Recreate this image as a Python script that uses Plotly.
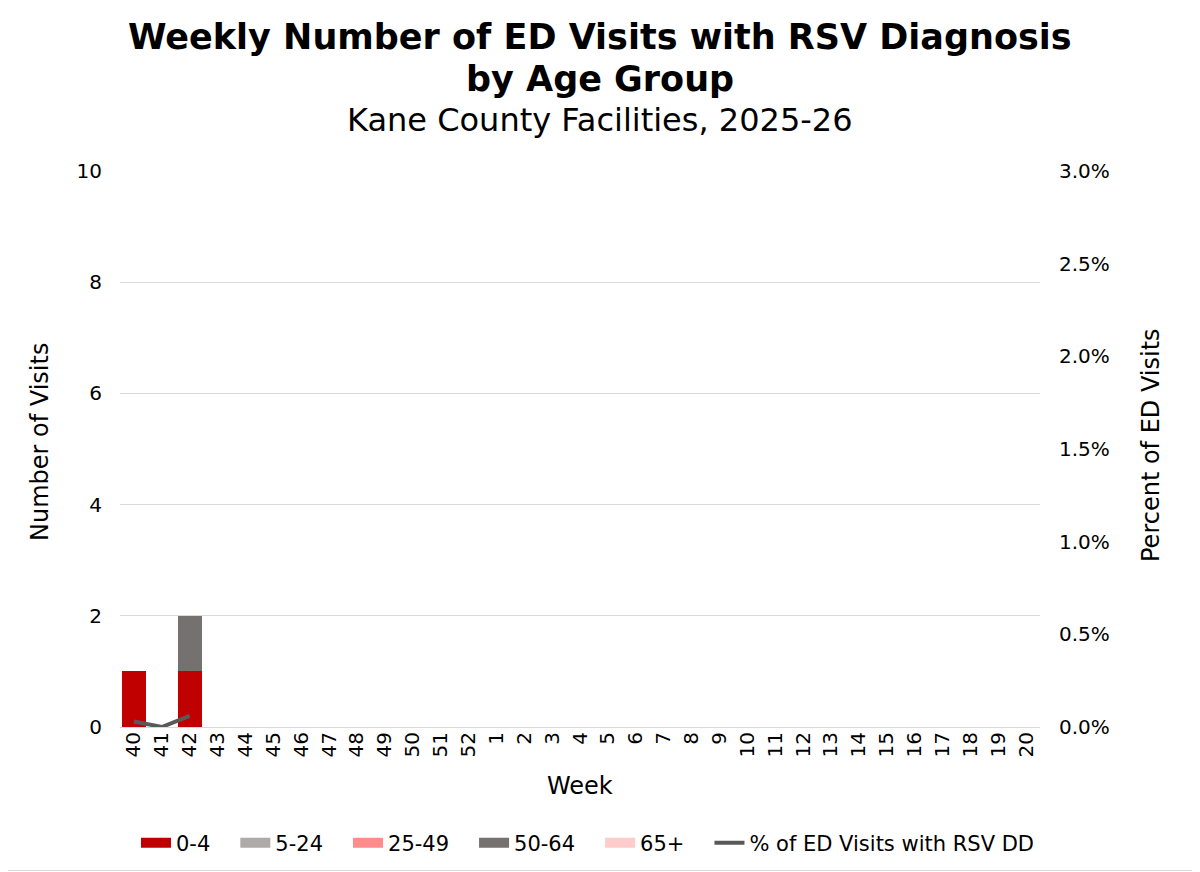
import plotly.graph_objects as go

weeks = [str(w) for w in list(range(40, 53)) + list(range(1, 21))]
age_0_4 = [1, 0, 1] + [None] * 30
age_5_24 = [0, 0, 0] + [None] * 30
age_25_49 = [0, 0, 0] + [None] * 30
age_50_64 = [0, 0, 1] + [None] * 30
age_65p = [0, 0, 0] + [None] * 30
pct_rsv = [0.0003, 0.0, 0.0006] + [None] * 30

series = [
    ("0-4", age_0_4, "#C00000"),
    ("5-24", age_5_24, "#AEAAAA"),
    ("25-49", age_25_49, "#FF8B8B"),
    ("50-64", age_50_64, "#767171"),
    ("65+", age_65p, "#FFCCCC"),
]

PAD = "\u00a0" * 3
FONT = "DejaVu Sans, Verdana, sans-serif"
fig = go.Figure()
for name, vals, col in series:
    fig.add_trace(go.Bar(x=weeks, y=vals, name=name, marker_color=col,
                         marker_line_width=0, legendgroup=name, showlegend=False))
    # legend swatch (wide rectangle like the reference)
    fig.add_trace(go.Scatter(x=[None], y=[None], name=name + PAD, mode="lines",
                             line=dict(color=col, width=13), legendgroup=name))
fig.add_trace(go.Scatter(x=weeks, y=pct_rsv, name="% of ED Visits with RSV DD",
                         mode="lines", line=dict(color="#595959", width=4),
                         yaxis="y2"))

# page is offset by the browser's 8px body margin
OFF = 8
W, H = 1200, 872
ml, mr, mt, mb = 120 - OFF, 160 + OFF, 171 - OFF, 145 + OFF
pw = W - ml - mr
ph = H - mt - mb


def px_x(x):
    return (x - OFF - ml) / pw


def px_y(y):
    return (H - mb - (y - OFF)) / ph


fig.update_layout(
    width=W, height=H,
    barmode="stack", bargap=0.14,
    paper_bgcolor="white", plot_bgcolor="white",
    margin=dict(l=ml, r=mr, t=mt, b=mb, autoexpand=False),
    font=dict(family=FONT, color="#000000"),
    xaxis=dict(type="category", tickangle=-90, tickfont=dict(size=20),
               showgrid=False, showline=False, ticks="", automargin=False),
    yaxis=dict(range=[0, 10], dtick=2, tickfont=dict(size=20),
               showgrid=True, gridcolor="#D9D9D9", gridwidth=1,
               zeroline=True, zerolinecolor="#D9D9D9", zerolinewidth=1,
               ticklabelstandoff=17, automargin=False),
    yaxis2=dict(range=[0, 0.03], dtick=0.005, tickformat=".1%", overlaying="y",
                side="right", showgrid=False, zeroline=False,
                tickfont=dict(size=20), ticklabelstandoff=18, automargin=False),
    legend=dict(orientation="h", x=(136 - OFF) / W, xanchor="left", xref="container",
                y=1 - (843 - OFF) / H, yanchor="middle", yref="container",
                font=dict(size=21), traceorder="normal"),
    showlegend=True,
)

# axis titles
fig.add_annotation(text="Number of Visits", xref="paper", yref="paper",
                   x=px_x(40), y=px_y(442), textangle=-90, showarrow=False,
                   font=dict(size=24), xanchor="center", yanchor="middle")
fig.add_annotation(text="Percent of ED Visits", xref="paper", yref="paper",
                   x=px_x(1151), y=px_y(445), textangle=-90, showarrow=False,
                   font=dict(size=24), xanchor="center", yanchor="middle")
fig.add_annotation(text="Week", xref="paper", yref="paper",
                   x=px_x(580), y=px_y(786), showarrow=False,
                   font=dict(size=24), xanchor="center", yanchor="middle")

cx = px_x(W / 2)
fig.add_annotation(text="<b>Weekly Number of ED Visits with RSV Diagnosis</b>",
                   xref="paper", yref="paper", x=cx, y=px_y(37), showarrow=False,
                   font=dict(size=35), xanchor="center", yanchor="middle")
fig.add_annotation(text="<b>by Age Group</b>",
                   xref="paper", yref="paper", x=cx, y=px_y(79), showarrow=False,
                   font=dict(size=35), xanchor="center", yanchor="middle")
fig.add_annotation(text="Kane County Facilities, 2025-26",
                   xref="paper", yref="paper", x=cx, y=px_y(120), showarrow=False,
                   font=dict(size=32), xanchor="center", yanchor="middle")

# light frame on the right and bottom edges of the chart
fig.add_shape(type="line", xref="paper", yref="paper",
              x0=px_x(W - 1.5), x1=px_x(W - 1.5), y0=px_y(H - 0.5), y1=px_y(OFF),
              line=dict(color="#D9D9D9", width=1))
fig.add_shape(type="line", xref="paper", yref="paper",
              x0=px_x(OFF), x1=px_x(W - 1.5), y0=px_y(H - 1.5), y1=px_y(H - 1.5),
              line=dict(color="#D9D9D9", width=1))

fig.write_html("out.html")
